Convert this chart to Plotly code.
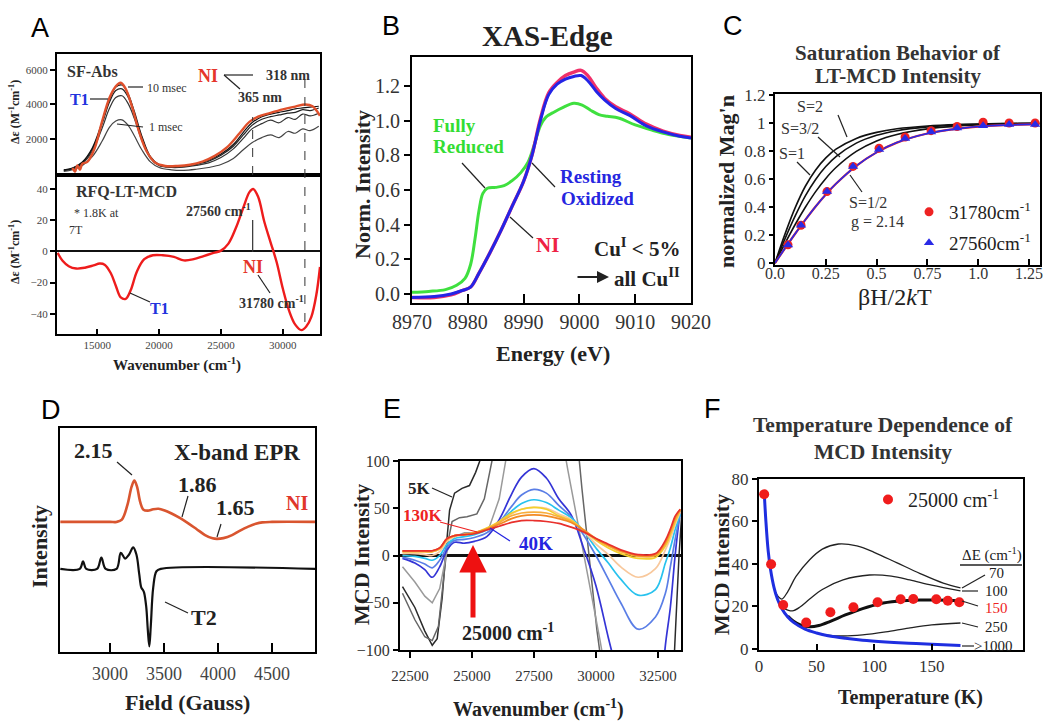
import plotly.graph_objects as go

W, H = 1050, 723
SERIF = "Liberation Serif"
SANS = "Liberation Sans"
INK = "#222222"

# ---------------- Panel A (top): stopped-flow absorption ----------------
A_WN = [12300, 13000, 13800, 14600, 15400, 16000, 16500, 17000, 17500, 18000, 18600, 19300, 20000,
        21000, 22000, 23000, 24000, 25000, 26000, 26800, 27500, 28300, 29000, 29700, 30400, 31000,
        31600, 32200, 32900]
A_ABS_10MS = [250, 350, 700, 1500, 3000, 4300, 5000, 5120, 4600, 3600, 2200, 1000, 550, 450, 480, 600,
              800, 1150, 1700, 2400, 2950, 3300, 3450, 3550, 3650, 3750, 3800, 3850, 3900]
A_ABS_5MS = [230, 330, 660, 1420, 2900, 4150, 4800, 4900, 4420, 3460, 2100, 950, 520, 420, 440, 560,
             740, 1080, 1600, 2250, 2800, 3150, 3300, 3400, 3500, 3550, 3700, 3650, 3800]
A_ABS_3MS = [200, 300, 600, 1300, 2650, 3800, 4400, 4500, 4050, 3200, 1950, 900, 480, 380, 400, 500,
             650, 950, 1450, 2050, 2600, 2900, 3100, 2950, 3250, 3150, 3450, 3350, 3500]
A_ABS_1MS = [150, 250, 500, 1000, 1900, 2700, 3050, 3120, 2800, 2200, 1400, 700, 380, 250, 220, 280,
             380, 550, 900, 1400, 1800, 2100, 2250, 2100, 2450, 2350, 2600, 2500, 2750]
A_NI_WN = [13000, 13200, 13400, 13600, 13800, 14200, 14800, 15400, 16000, 16500, 16900, 17300, 17800,
           18400, 19000, 19700, 20500, 21500, 22500, 23500, 24500, 25500, 26500, 27300, 28000, 29000,
           30000, 31000, 31800, 32400, 33000]
A_NI = [350, 150, 500, 250, 600, 700, 1500, 3050, 4400, 5050, 5250, 4900, 3900, 2400, 1300, 650, 470,
        470, 540, 720, 1050, 1550, 2350, 3000, 3300, 3520, 3720, 3880, 4000, 3900, 3350]

# ---------------- Panel A (bottom): RFQ LT-MCD ----------------
A_MCD_WN = [11800, 12200, 12700, 13300, 14000, 14700, 15200, 15600, 16100, 16500, 16900, 17300, 17700,
            18200, 18800, 19500, 20300, 21200, 22000, 22800, 23600, 24400, 25000, 25600, 26200, 26800,
            27300, 27600, 28000, 28500, 29000, 29500, 30000, 30500, 31000, 31500, 31900, 32300, 32700,
            33000]
A_MCD = [-1, -6, -9.5, -11, -10.5, -9, -7.8, -8.5, -14, -22, -29.5, -30.5, -25, -13, -5, -2.5, -2.5,
         -3.5, -5.8, -5, -3, -1, 0.5, 5, 15, 28, 38, 40, 35, 19, 6, -7, -24, -38, -47, -50.5, -48, -42,
         -28, -10]
A_PEAKS = [27560, 31780]

# ---------------- Panel B: XAS edge ----------------
B_E_RED = [8970, 8973, 8976, 8978, 8979.5, 8980.5, 8981.3, 8982, 8982.7, 8983.5, 8985, 8986.5, 8988,
           8989.5, 8990.8, 8992, 8993, 8994, 8995.5, 8997, 8999, 9000.5, 9002, 9003.5, 9005, 9007,
           9010, 9013, 9016, 9020]
B_FULLY_REDUCED = [0.01, 0.015, 0.025, 0.05, 0.09, 0.17, 0.32, 0.48, 0.58, 0.61, 0.615, 0.625, 0.655,
                   0.70, 0.76, 0.87, 0.97, 1.02, 1.05, 1.075, 1.10, 1.09, 1.06, 1.035, 1.025, 1.015,
                   0.975, 0.945, 0.92, 0.90]
B_E = [8970, 8974, 8977, 8979, 8980.5, 8982, 8984, 8986, 8988, 8990, 8991.5, 8993, 8994.5, 8996,
       8997.5, 8999, 9000.3, 9001.5, 9003, 9004.5, 9006.5, 9009, 9012, 9015, 9018, 9020]
B_RESTING = [-0.02, -0.015, 0.0, 0.02, 0.04, 0.12, 0.24, 0.37, 0.51, 0.65, 0.80, 1.00, 1.15, 1.21,
             1.24, 1.255, 1.26, 1.23, 1.17, 1.12, 1.07, 1.03, 0.97, 0.935, 0.91, 0.90]
B_NI = [-0.02, -0.02, -0.005, 0.02, 0.04, 0.12, 0.24, 0.37, 0.51, 0.65, 0.80, 1.01, 1.16, 1.22, 1.26,
        1.28, 1.29, 1.26, 1.19, 1.13, 1.08, 1.04, 0.98, 0.94, 0.915, 0.905]

# ---------------- Panel C: saturation magnetization ----------------
C_X = [0, 0.05, 0.1, 0.15, 0.2, 0.25, 0.3, 0.4, 0.5, 0.6, 0.75, 0.9, 1.05, 1.2, 1.3]
C_S2 = [0, 0.210, 0.397, 0.550, 0.665, 0.751, 0.813, 0.890, 0.933, 0.959, 0.979, 0.989, 0.994, 0.997, 0.998]
C_S32 = [0, 0.176, 0.338, 0.481, 0.597, 0.689, 0.760, 0.856, 0.912, 0.945, 0.972, 0.986, 0.992, 0.996, 0.997]
C_S1 = [0, 0.142, 0.277, 0.400, 0.510, 0.604, 0.682, 0.797, 0.872, 0.918, 0.958, 0.978, 0.989, 0.994, 0.996]
C_S12 = [0, 0.107, 0.211, 0.310, 0.404, 0.490, 0.566, 0.694, 0.790, 0.860, 0.925, 0.960, 0.980, 0.988, 0.992]
C_PTS_X = [0.064, 0.128, 0.256, 0.384, 0.512, 0.64, 0.768, 0.896, 1.024, 1.152, 1.28]
C_31780 = [0.13, 0.27, 0.51, 0.69, 0.82, 0.90, 0.945, 0.975, 1.005, 1.0, 1.0]
C_27560 = [0.128, 0.27, 0.51, 0.69, 0.81, 0.89, 0.935, 0.965, 0.98, 0.99, 0.99]

# ---------------- Panel D: X-band EPR ----------------
D_NI_FIELD = [2540, 3000, 3060, 3110, 3160, 3200, 3225, 3250, 3280, 3310, 3350, 3400, 3450, 3500, 3570,
              3650, 3725, 3800, 3880, 3950, 3990, 4050, 4130, 4200, 4280, 4350, 4410, 4500, 4900]
D_NI = [1.0, 1.0, 1.0, 1.05, 1.35, 1.75, 1.88, 1.75, 1.42, 1.26, 1.24, 1.27, 1.28, 1.25, 1.18, 1.08,
        0.97, 0.85, 0.72, 0.65, 0.64, 0.655, 0.72, 0.81, 0.9, 0.96, 0.99, 1.0, 1.0]
D_T2_FIELD = [2540, 2720, 2750, 2780, 2880, 2920, 2960, 3060, 3100, 3140, 3175, 3215, 3245, 3270, 3290,
              3305, 3315, 3335, 3350, 3364, 3378, 3400, 3430, 3470, 4900]
D_T2 = [0, 0, 0.16, 0, 0, 0.24, 0, 0, 0.34, 0.22, 0.30, 0.46, 0.30, -0.1, -0.4, -0.45, -0.5, -0.8,
        -1.3, -1.65, -1.2, -0.4, -0.05, 0, 0]

# ---------------- Panel E: VTVH MCD spectra ----------------
E_WN = [22200, 22700, 23100, 23400, 23700, 24000, 24300, 24700, 25100, 25600, 26100, 26600, 27000,
        27500, 28000, 28500, 29000, 29500, 30000, 30500, 31000, 31700, 32400, 32800, 33000, 33200, 33400]
E_40K = [-3, -8, -15, -23, -12, 6, 14, 13, 15, 20, 38, 65, 83, 92, 82, 60, 43, 8, -32, -87, -140, -230,
         -200, -95, -55, 2, 48]
E_50K = [-2, -5, -9, -13, -5, 9, 16, 17, 19, 24, 35, 52, 64, 70, 66, 53, 41, 22, 0, -25, -50, -78, -65,
         -40, -12, 18, 44]
E_60K = [0, -1, -3, -5, 0, 12, 18, 20, 22, 27, 35, 47, 55, 59, 56, 48, 40, 26, 8, -8, -25, -42, -36,
         -8, 8, 28, 44]
E_80K = [2, 2, 1, 0, 4, 15, 20, 22, 24, 28, 35, 44, 49, 51, 50, 44, 38, 26, 12, 1, -12, -23, -14, 6,
         18, 33, 46]
E_90K = [4, 4, 4, 4, 7, 17, 21, 22, 24, 29, 36, 45, 49, 51, 49, 42, 37, 27, 16, 8, 2, -3, -2, 10, 22,
         36, 48]
E_100K = [4, 4, 4, 4, 7, 17, 21, 22, 24, 28, 35, 42, 45, 46, 45, 41, 36, 27, 17, 10, 4, -1, 0, 12, 24,
          38, 48]
E_115K = [5, 5, 5, 5, 8, 18, 21, 22, 24, 28, 33, 39, 42, 43, 42, 39, 35, 27, 18, 11, 5, 0, 1, 14, 26,
          40, 49]
E_130K = [5, 5, 5, 5, 8, 18, 21, 22, 23, 27, 31, 35, 37, 37, 36, 34, 30, 25, 18, 12, 6, 1, 2, 16, 28,
          42, 49]
E_5K_WN = [22200, 22700, 23100, 23400, 23600, 23800, 23950, 24100, 24300, 24600, 24900, 25150, 25400,
           25600, None, 32900, 33150, 33350, 33450]
E_5K = [-33, -55, -80, -95, -88, -45, 5, 48, 66, 71, 74, 88, 106, 130, None, -250, -110, 0, 40]
E_10K_WN = [22200, 22700, 23100, 23400, 23650, 23850, 24000, 24200, 24500, 24800, 25200, 25500, 25850,
            26000, None, 29150, 29435, 30040, 30300]
E_10K = [-40, -68, -86, -90, -75, -30, 10, 36, 40, 41, 44, 60, 106, 125, None, 150, 71, -79, -130]
E_20K_WN = [22200, 22700, 23100, 23400, 23700, 24000, 24300, 24700, 25200, 25700, 26100, 26400, 26600,
            None, 28600, 28870, 30160, 30400]
E_20K = [-12, -28, -43, -50, -35, 5, 20, 24, 24, 30, 60, 106, 125, None, 130, 90, -89, -125]

# ---------------- Panel F: temperature dependence ----------------
F_T_DOTS = [4.5, 10.5, 21, 41, 62, 82, 103, 123, 134, 154, 164, 174]
F_I_DOTS = [72.8, 39.9, 20.7, 12.4, 17.3, 19.6, 22.0, 23.4, 23.5, 23.4, 22.7, 22.0]
F_T_1000 = [4.5, 6, 8, 10, 13, 16, 20, 25, 30, 40, 50, 60, 75, 90, 110, 130, 150, 175]
F_I_1000 = [74, 60, 46, 37.5, 29, 23.5, 18.8, 15, 12.5, 9.3, 7.5, 6.2, 5.0, 4.1, 3.3, 2.7, 2.2, 1.6]
F_T_70 = [14, 17, 20, 25, 32, 44, 55, 69, 85, 100, 120, 140, 160, 175]
F_I_70 = [27, 24.5, 23.5, 27, 34, 42, 47, 49.4, 48.5, 45.5, 40.5, 35.5, 31, 28.7]
F_T_100 = [20, 25, 29, 35, 44, 55, 73, 96, 115, 131, 150, 175]
F_I_100 = [19.5, 18.3, 17.9, 19.5, 23.5, 28, 32.5, 34.8, 34.3, 32.5, 30, 27.3]
F_T_150 = [25, 30, 36, 44, 52, 62, 75, 90, 105, 120, 140, 155, 175]
F_I_150 = [15.5, 13, 11.3, 10.4, 11, 13, 16, 19, 21.3, 22.4, 23, 23, 22.6]
F_T_250 = [40, 50, 60, 73, 90, 110, 130, 150, 175]
F_I_250 = [9.5, 7.6, 6.5, 6.1, 6.6, 8, 9.8, 11.3, 12.2]


def X(p):
    return p / W


def Y(p):
    return 1 - p / H


fig = go.Figure()


def line(x, y, ax, color, width=1.5, shape="linear", dash=None):
    fig.add_trace(go.Scatter(x=x, y=y, xaxis="x" + ax, yaxis="y" + ax, mode="lines",
                             line=dict(color=color, width=width, shape=shape, dash=dash),
                             showlegend=False, hoverinfo="skip", connectgaps=False))


# Panel A traces
for ys, c in [(A_ABS_1MS, "#444"), (A_ABS_3MS, "#333"), (A_ABS_5MS, "#222"), (A_ABS_10MS, "#111")]:
    line(A_WN, ys, "", c, 1.2, "spline")
line(A_NI_WN, A_NI, "", "#e0502c", 2.4, "spline")
line(A_MCD_WN, A_MCD, "2", "#ee1c1c", 2.4, "spline")

# Panel B traces
line(B_E_RED, B_FULLY_REDUCED, "3", "#3fe03f", 3, "spline")
line(B_E, B_NI, "3", "#f0306a", 3.4, "spline")
line(B_E, B_RESTING, "3", "#2424e6", 3, "spline")

# Panel C traces
for ys in [C_S2, C_S32, C_S1]:
    line(C_X, ys, "4", "#111", 1.6, "spline")
line(C_X, C_S12, "4", "#ee2222", 2.2, "spline")
line(C_X, C_S12, "4", "#2a2ae6", 1.6, "spline")
fig.add_trace(go.Scatter(x=C_PTS_X, y=C_31780, xaxis="x4", yaxis="y4", mode="markers",
                         marker=dict(symbol="circle", size=9, color="#ee2222"),
                         name="31780cm<sup>-1</sup>", legend="legend2", hoverinfo="skip"))
fig.add_trace(go.Scatter(x=C_PTS_X, y=C_27560, xaxis="x4", yaxis="y4", mode="markers",
                         marker=dict(symbol="triangle-up", size=9, color="#2a2ae6"),
                         name="27560cm<sup>-1</sup>", legend="legend4", hoverinfo="skip"))

# Panel D traces
line(D_NI_FIELD, D_NI, "5", "#d9552f", 2.6, "spline")
line(D_T2_FIELD, D_T2, "5", "#111", 2.2, "spline")

# Panel E traces
for xs, ys, c in [(E_5K_WN, E_5K, "#2a2a2a"), (E_10K_WN, E_10K, "#666666"), (E_20K_WN, E_20K, "#9a9a9a")]:
    line(xs, ys, "6", c, 1.5, "linear")
for ys, c in [(E_40K, "#3434d6"), (E_50K, "#5a7ee6"), (E_60K, "#28c2ee"), (E_80K, "#f8c89c"),
              (E_90K, "#f3d02c"), (E_100K, "#f8ad3c"), (E_115K, "#f28a24"), (E_130K, "#e8302c")]:
    line(E_WN, ys, "6", c, 1.7, "spline")

# Panel F traces
line(F_T_70, F_I_70, "7", "#222", 1.3, "spline")
line(F_T_100, F_I_100, "7", "#222", 1.3, "spline")
line(F_T_250, F_I_250, "7", "#222", 1.3, "spline")
line(F_T_150, F_I_150, "7", "#111", 3, "spline")
line(F_T_1000, F_I_1000, "7", "#1e2ee0", 3, "spline")
fig.add_trace(go.Scatter(x=F_T_DOTS, y=F_I_DOTS, xaxis="x7", yaxis="y7", mode="markers",
                         marker=dict(symbol="circle", size=10, color="#f01c1c"),
                         name="25000 cm<sup>-1</sup>", legend="legend3", hoverinfo="skip"))


def axis(l, r, t, b, rng, anchor, **kw):
    d = dict(domain=[X(l), X(r)], range=rng, anchor=anchor, showline=True, mirror=True,
             linecolor="black", linewidth=2, showgrid=False, zeroline=False,
             tickfont=dict(family=SERIF, size=14, color="#333"), ticks="inside", ticklen=6,
             tickwidth=1.5, tickcolor="black", tickformat="d")
    d.update(kw)
    return d


def yaxis(t, b, rng, anchor, **kw):
    d = dict(domain=[Y(b), Y(t)], range=rng, anchor=anchor, showline=True, mirror=True,
             linecolor="black", linewidth=2, showgrid=False, zeroline=False,
             tickfont=dict(family=SERIF, size=14, color="#333"), ticks="outside", ticklen=5,
             tickwidth=1.5, tickcolor="black")
    d.update(kw)
    return d


def legend_at(x, y, size):
    return dict(x=X(x), y=Y(y), xanchor="left", yanchor="top", bgcolor="rgba(0,0,0,0)",
                font=dict(family=SERIF, size=size, color=INK), itemwidth=30)


layout = dict(
    width=W, height=H, margin=dict(l=0, r=0, t=0, b=0, autoexpand=False),
    paper_bgcolor="white", plot_bgcolor="white", showlegend=True,
    xaxis=axis(57, 320, 54, 175, [11750, 33000], "y", showticklabels=False, ticks=""),
    yaxis=yaxis(54, 175, [-50, 6900], "x", tickvals=[2000, 4000, 6000],
                tickfont=dict(family=SERIF, size=11, color="#444")),
    xaxis2=axis(57, 320, 175, 334, [11750, 33000], "y2", tickvals=[15000, 20000, 25000, 30000],
                tickfont=dict(family=SERIF, size=11, color="#444"), ticklen=5),
    yaxis2=yaxis(175, 334, [-53, 49], "x2", tickvals=[-40, -20, 0, 20, 40],
                 tickfont=dict(family=SERIF, size=11, color="#444"),
                 zeroline=True, zerolinecolor="#111", zerolinewidth=2),
    xaxis3=axis(412, 691, 57, 303, [8970, 9020], "y3", tickvals=[8970, 8980, 8990, 9000, 9010, 9020],
                tickfont=dict(family=SERIF, size=20, color="#333"), ticklen=9),
    yaxis3=yaxis(57, 303, [-0.052, 1.367], "x3", tickvals=[0, 0.2, 0.4, 0.6, 0.8, 1.0, 1.2],
                 tickformat=".1f", tickfont=dict(family=SERIF, size=20, color="#333"), ticklen=6),
    xaxis4=axis(775, 1040, 94, 265, [0, 1.304], "y4", tickvals=[0, 0.25, 0.5, 0.75, 1.0, 1.25],
                ticktext=["0.0", "0.25", "0.5", "0.75", "1.0", "1.25"], ticklabelstandoff=-7,
                tickfont=dict(family=SERIF, size=16, color="#333")),
    yaxis4=yaxis(94, 265, [-0.014, 1.207], "x4", tickvals=[0, 0.2, 0.4, 0.6, 0.8, 1.0, 1.2],
                 ticktext=["0", "0.2", "0.4", "0.6", "0.8", "1", "1.2"],
                 tickfont=dict(family=SERIF, size=17, color="#333"), ticklen=4),
    xaxis5=axis(60, 315, 428, 652, [2537, 4898], "y5", tickvals=[3000, 3500, 4000, 4500],
                tickfont=dict(family=SERIF, size=18, color="#444"), ticklen=9, ticklabelstandoff=4),
    yaxis5=yaxis(428, 652, [-1.77, 3.0], "x5", showticklabels=False, ticks=""),
    xaxis6=axis(400, 681, 461, 650, [22100, 33430], "y6",
                tickvals=[22500, 25000, 27500, 30000, 32500], ticks="outside", ticklabelstandoff=5,
                tickfont=dict(family=SERIF, size=15, color="#333")),
    yaxis6=yaxis(461, 650, [-100, 100], "x6", tickvals=[-100, -50, 0, 50, 100],
                 tickfont=dict(family=SERIF, size=16, color="#333"),
                 zeroline=True, zerolinecolor="#111", zerolinewidth=2.5),
    xaxis7=axis(759, 1023, 479, 650, [0, 229.3], "y7", tickvals=[0, 50, 100, 150],
                tickfont=dict(family=SERIF, size=17, color="#333")),
    yaxis7=yaxis(479, 650, [-0.5, 80], "x7", tickvals=[0, 20, 40, 60, 80],
                 tickfont=dict(family=SERIF, size=17, color="#333")),
    legend2=legend_at(909, 193, 19),
    legend4=legend_at(909, 224, 19),
    legend3=legend_at(868, 480, 20),
)

anns = []


def T(text, x, y, size=14, color=INK, bold=True, angle=0, family=SERIF, xanchor="center"):
    anns.append(dict(text=("<b>%s</b>" % text) if bold else text, x=X(x), y=Y(y), xref="paper",
                     yref="paper", showarrow=False, xanchor=xanchor, yanchor="middle",
                     textangle=angle, font=dict(family=family, size=size, color=color)))


# panel letters
for L, x, y in [("A", 40, 28), ("B", 391, 26), ("C", 733, 26), ("D", 51, 410), ("E", 392, 409), ("F", 712, 409)]:
    T(L, x, y, 27, "#000", False, family=SANS)

# Panel A text
T("Δε (M<sup>-1</sup>cm<sup>-1</sup>)", 14, 112, 12, angle=-90)
T("Δε (M<sup>-1</sup>cm<sup>-1</sup>)", 14, 252, 12, angle=-90)
T("Wavenumber (cm<sup>-1</sup>)", 177, 364, 15)
T("SF-Abs", 92, 72, 16, "#333")
T("T1", 79, 100, 16, "#2233dd")
T("10 msec", 167, 88, 12, "#333", False)
T("1 msec", 166, 127, 12, "#333", False)
T("NI", 208, 76, 18, "#e5352a")
T("318 nm", 288, 76, 14, "#333")
T("365 nm", 260, 98, 14, "#333")
T("RFQ-LT-MCD", 126, 192, 16, "#333")
T("* 1.8K at", 96, 213, 12, "#333", False)
T("7T", 76, 230, 12, "#333", False)
T("27560 cm<sup>-1</sup>", 218, 210, 14, "#333")
T("NI", 253, 267, 18, "#e5352a")
T("31780 cm<sup>-1</sup>", 271, 302, 14, "#333")
T("T1", 159, 308, 16, "#2233dd")

# Panel B text
T("XAS-Edge", 547, 36, 29, "#222")
T("Norm. Intensity", 363, 185, 22, angle=-90)
T("Energy (eV)", 553, 353, 22)
T("Fully", 454, 125, 19, "#33dd33")
T("Reduced", 468, 147, 19, "#33dd33")
T("Resting", 591, 176, 19, "#2626e0")
T("Oxidized", 597, 198, 19, "#2626e0")
T("NI", 547, 245, 21, "#ee2244")
T("Cu<sup>I</sup> < 5%", 637, 247, 21, "#222")
T("all Cu<sup>II</sup>", 647, 277, 21, "#222")
anns.append(dict(x=X(609), y=Y(277), ax=-33, ay=0, xref="paper", yref="paper", text="", showarrow=True,
                 arrowhead=2, arrowsize=1.2, arrowwidth=2, arrowcolor="#222"))

# Panel C text
T("Saturation Behavior of", 898, 53, 21, "#333")
T("LT-MCD Intensity", 898, 76, 21, "#333")
T("normalized Mag'n", 726, 182, 22, angle=-90)
T("βH/2<i>k</i>T", 895, 297, 24, "#222", False)
T("S=2", 810, 106, 16, "#333", False)
T("S=3/2", 800, 128, 16, "#333", False)
T("S=1", 792, 153, 16, "#333", False)
T("S=1/2", 868, 202, 16, "#333", False)
T("g = 2.14", 877, 222, 16, "#333", False)

# Panel D text
T("X-band EPR", 237, 452, 23, "#222")
T("2.15", 93, 450, 22, "#222")
T("1.86", 197, 485, 22, "#222")
T("1.65", 235, 508, 22, "#222")
T("NI", 297, 503, 20, "#e0362a")
T("T2", 204, 617, 22, "#222")
T("Intensity", 39, 547, 22, angle=-90)
T("Field (Gauss)", 187, 702, 22)

# Panel E text
T("MCD Intensity", 361, 555, 22, angle=-90)
T("Wavenumber (cm<sup>-1</sup>)", 538, 708, 20)
T("5K", 419, 488, 17, "#222")
T("130K", 423, 515, 17, "#ee2222")
T("40K", 536, 543, 19, "#2424e0")
T("25000 cm<sup>-1</sup>", 508, 632, 20, "#222")
anns.append(dict(x=X(473), y=Y(545), ax=0, ay=74, xref="paper", yref="paper", text="", showarrow=True,
                 arrowhead=2, arrowsize=1.1, arrowwidth=5, arrowcolor="#ee1111"))

# Panel F text
T("Temperature Dependence of", 883, 425, 21.5, "#333")
T("MCD Intensity", 883, 452, 21.5, "#333")
T("MCD Intensity", 721, 565, 22, angle=-90)
T("Temperature (K)", 910, 697, 20)
T("ΔE (cm<sup>-1</sup>)", 992, 554, 15, "#222", False)
T("70", 996, 573, 15, "#222", False)
T("100", 996, 591, 15, "#222", False)
T("150", 996, 608, 15, "#ee2222", False)
T("250", 996, 627, 15, "#222", False)
T(">1000", 993, 646, 15, "#222", False)

layout["annotations"] = anns

shapes = []


def seg(x0, y0, x1, y1, color="#222", width=1.2, dash=None):
    shapes.append(dict(type="line", xref="paper", yref="paper", x0=X(x0), y0=Y(y0), x1=X(x1), y1=Y(y1),
                       line=dict(color=color, width=width, dash=dash)))


# A leaders and markers
seg(90, 99, 108, 99)
seg(128, 87, 143, 87)
seg(117, 124, 143, 127)
seg(224, 75, 253, 75)
seg(224, 75, 240, 89)
seg(258, 275, 270, 293)
seg(130, 293, 150, 302)
shapes.append(dict(type="line", xref="x", yref="paper", x0=A_PEAKS[0], x1=A_PEAKS[0], y0=Y(175), y1=Y(117),
                   line=dict(color="#333", width=1, dash="dash")))
shapes.append(dict(type="line", xref="x2", yref="paper", x0=A_PEAKS[0], x1=A_PEAKS[0], y0=Y(252), y1=Y(220),
                   line=dict(color="#333", width=1.2)))
shapes.append(dict(type="line", xref="x2", yref="paper", x0=A_PEAKS[1], x1=A_PEAKS[1], y0=Y(322), y1=Y(78),
                   line=dict(color="#333", width=1, dash="dash")))
# B leaders
seg(462, 163, 485, 188)
seg(532, 163, 555, 187)
seg(510, 217, 533, 238)
# C leaders
seg(838, 115, 847, 137)
seg(818, 137, 840, 157)
seg(797, 162, 810, 175)
seg(850, 175, 862, 192)
# D leaders
seg(117, 462, 132, 475)
seg(188, 496, 182, 517)
seg(221, 524, 217, 537)
seg(165, 602, 188, 613)
# E leaders
seg(432, 488, 452, 497, "#222")
seg(440, 522, 477, 532, "#ee2222")
seg(510, 541, 490, 528, "#2424e0")
# F leaders
seg(960, 565, 1022, 565, "#222", 1.5)
seg(962, 588, 985, 575)
seg(962, 591, 978, 591)
seg(962, 601, 978, 606)
seg(962, 623, 978, 627)
seg(962, 646, 974, 646)
layout["shapes"] = shapes

fig.update_layout(**layout)
fig.write_html("out.html", config={"displayModeBar": False},
               post_script="document.body.style.margin='0';")
